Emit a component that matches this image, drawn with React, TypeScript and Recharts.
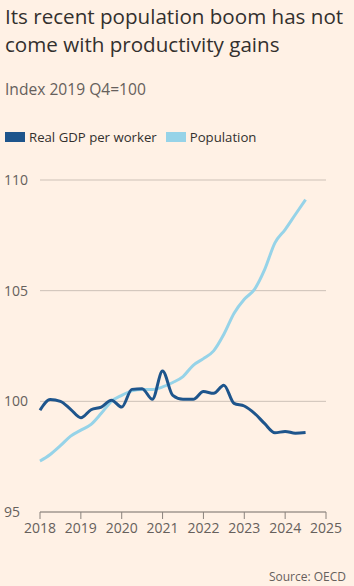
import { LineChart, Line, XAxis, YAxis, CartesianGrid } from "recharts";

// quarterly, 2018 Q1 .. 2024 Q3
const quarters = [
  2018, 2018.25, 2018.5, 2018.75, 2019, 2019.25, 2019.5, 2019.75, 2020, 2020.25,
  2020.5, 2020.75, 2021, 2021.25, 2021.5, 2021.75, 2022, 2022.25, 2022.5,
  2022.75, 2023, 2023.25, 2023.5, 2023.75, 2024, 2024.25, 2024.5,
];

const gdpPerWorker = [
  99.6, 100.08, 100.0, 99.64, 99.26, 99.62, 99.74, 100.05, 99.74, 100.54,
  100.57, 100.09, 101.37, 100.27, 100.09, 100.09, 100.44, 100.36, 100.73,
  99.91, 99.79, 99.46, 98.99, 98.58, 98.64, 98.56, 98.59,
];

const population = [
  97.3, 97.6, 98.0, 98.43, 98.7, 98.96, 99.46, 100.0, 100.27, 100.47, 100.54,
  100.54, 100.65, 100.85, 101.12, 101.63, 101.93, 102.28, 103.03, 103.98,
  104.61, 105.06, 105.96, 107.16, 107.76, 108.44, 109.11,
];

const yearTicks = [2018, 2019, 2020, 2021, 2022, 2023, 2024, 2025];
const valueTicks = [95, 100, 105, 110];

const data = quarters.map((q, i) => ({
  q,
  gdp: gdpPerWorker[i],
  pop: population[i],
}));

const FONT = "'Open Sans', sans-serif";
const DARK = "#1e558c";
const LIGHT = "#96d3e8";

function YTick(props: any) {
  const { y, payload } = props;
  return (
    <text x={4} y={y} dy={5} textAnchor="start" fill="#66605c" fontSize={14} fontFamily={FONT}>
      {payload.value}
    </text>
  );
}

export default function App() {
  return (
    <div
      style={{
        position: "fixed",
        top: 0,
        left: 0,
        width: 354,
        height: 586,
        background: "#fff1e5",
        fontFamily: FONT,
        overflow: "hidden",
      }}
    >
      <div
        style={{
          position: "absolute",
          left: 5,
          top: 2,
          fontSize: 20.6,
          lineHeight: "28px",
          color: "#33302e",
        }}
      >
        Its recent population boom has not
        <br />
        come with productivity gains
      </div>

      <div style={{ position: "absolute", left: 5, top: 78, fontSize: 15.6, color: "#66605c" }}>
        Index 2019 Q4=100
      </div>

      <div
        style={{
          position: "absolute",
          left: 5,
          top: 128,
          fontSize: 13.2,
          color: "#33302e",
          display: "flex",
          alignItems: "center",
        }}
      >
        <span style={{ width: 20, height: 10, background: DARK, marginRight: 4 }} />
        <span style={{ marginRight: 9 }}>Real GDP per worker</span>
        <span style={{ width: 20, height: 10, background: LIGHT, marginRight: 4 }} />
        <span>Population</span>
      </div>

      <div
        style={{
          position: "absolute",
          right: 8,
          top: 568,
          fontSize: 12,
          color: "#66605c",
        }}
      >
        Source: OECD
      </div>

      <div style={{ position: "absolute", left: 0, top: 0 }}>
        <LineChart
          width={354}
          height={586}
          data={data}
          margin={{ top: 180, right: 28, bottom: 44, left: 0 }}
        >
          <CartesianGrid vertical={false} stroke="#cdc1b7" strokeWidth={1} />
          <XAxis
            dataKey="q"
            type="number"
            domain={[2018, 2025]}
            ticks={yearTicks}
            height={30}
            axisLine={{ stroke: "#8a827c" }}
            tickLine={{ stroke: "#8a827c" }}
            tickSize={7}
            tickMargin={4}
            tick={{ fill: "#66605c", fontSize: 14, fontFamily: FONT }}
            interval={0}
          />
          <YAxis
            domain={[95, 110]}
            ticks={valueTicks}
            width={40}
            axisLine={false}
            tickLine={false}
            tick={<YTick />}
            interval={0}
          />
          <Line
            dataKey="pop"
            type="monotone"
            stroke={LIGHT}
            strokeWidth={3}
            dot={false}
            isAnimationActive={false}
          />
          <Line
            dataKey="gdp"
            type="monotone"
            stroke={DARK}
            strokeWidth={3}
            dot={false}
            isAnimationActive={false}
          />
        </LineChart>
      </div>
    </div>
  );
}
